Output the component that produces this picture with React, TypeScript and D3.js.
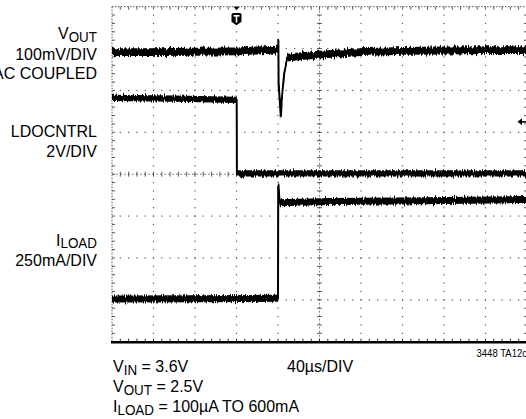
import React from "react";
import * as d3 from "d3";

// ---------- data ----------
// time axis: 40µs/DIV, 10 divisions
const timeDomain = [0, 400]; // µs

// VOUT, AC coupled, deviation in mV (100mV/DIV)
const voutTime = [0, 40, 80, 120, 140, 158, 160.2, 160.35, 160.6, 162.8, 163.6, 166, 169, 180, 200, 240, 280, 320, 360, 400];
const voutMv = [-5, -5, -4, -3, -1, 1, 1, 23, -80, -160, -118, -55, -18, -15, -11, -5, -2, -1, 0, 0];

// LDOCNTRL in V (2V/DIV)
const ldoTime = [0, 60, 120.2, 120.4, 140, 200, 300, 400];
const ldoV = [3.65, 3.61, 3.55, 0.04, 0.04, 0.04, 0.04, 0.04];

// ILOAD in mA (250mA/DIV)
const iloadTime = [0, 80, 160, 160.2, 160.4, 161.6, 210, 300, 400];
const iloadMa = [0, 2, 4, 680, 680, 575, 582, 587, 594];

// trigger position (µs) and reference marker (divisions)
const triggerTime = 120;
const refMarkerDiv = 1.25;

// labels
const leftLabels = [
  { main: "V", sub: "OUT" },
  { main: "100mV/DIV", sub: "" },
  { main: "AC COUPLED", sub: "" },
  { main: "LDOCNTRL", sub: "" },
  { main: "2V/DIV", sub: "" },
  { main: "I", sub: "LOAD" },
  { main: "250mA/DIV", sub: "" },
];
const leftLabelY = [39.3, 59.5, 79.3, 136.7, 156.7, 245.5, 265.5];

const bottomLabels = [
  { main: "V", sub: "IN", rest: " = 3.6V" },
  { main: "V", sub: "OUT", rest: " = 2.5V" },
  { main: "I", sub: "LOAD", rest: " = 100µA TO 600mA" },
];
const bottomLabelY = [372, 392, 412];
const timebaseLabel = "40µs/DIV";
const figureId = "3448 TA12c";

// ---------- layout ----------
const W = 526;
const H = 419;
const plot = { left: 112, right: 527, top: 6.7, bottom: 341.7 };
const X_DIVS = 10;
const Y_DIVS = 8;
const FONT = "'Liberation Sans', Arial, Helvetica, sans-serif";
const FS = 17.4;
const SUB_FS = 14.6;
const SX = 0.92; // condensed look

export default function App() {
  const x = d3.scaleLinear().domain(timeDomain).range([plot.left, plot.right]);
  const yDiv = d3.scaleLinear().domain([-Y_DIVS / 2, Y_DIVS / 2]).range([plot.bottom, plot.top]);
  const divW = (plot.right - plot.left) / X_DIVS;
  const divH = (plot.bottom - plot.top) / Y_DIVS;

  const traces = [
    { t: voutTime, v: voutMv, perDiv: 100, zeroDiv: 2.964, band: 3.9 },
    { t: ldoTime, v: ldoV, perDiv: 2, zeroDiv: 0, band: 3.1 },
    { t: iloadTime, v: iloadMa, perDiv: 250, zeroDiv: -2.98, band: 3.5 },
  ];

  // grid elements
  const dots: { x: number; y: number }[] = [];
  for (let k = 1; k < X_DIVS; k++) {
    if (k === X_DIVS / 2) continue;
    for (let j = 1; j < Y_DIVS * 5; j++) {
      dots.push({ x: plot.left + k * divW, y: plot.top + (j * divH) / 5 });
    }
  }
  for (let j = 1; j < Y_DIVS; j++) {
    if (j === Y_DIVS / 2) continue;
    for (let k = 1; k < X_DIVS * 5; k++) {
      dots.push({ x: plot.left + (k * divW) / 5, y: plot.top + j * divH });
    }
  }
  const cx = plot.left + (X_DIVS / 2) * divW;
  const cy = plot.top + (Y_DIVS / 2) * divH;
  const hTicks = d3.range(1, X_DIVS * 5).map((k) => plot.left + (k * divW) / 5);
  const vTicks = d3.range(1, Y_DIVS * 5).map((j) => plot.top + (j * divH) / 5);

  const tx = x(triggerTime);
  const ry = yDiv(refMarkerDiv);

  const label = (key: string, px: number, py: number, anchor: string, main: string, sub: string, rest: string) => (
    <text key={key} transform={`translate(${px},${py}) scale(${SX},1)`} textAnchor={anchor}>
      {main}
      {sub ? (
        <tspan fontSize={SUB_FS} dy={2.6}>
          {sub}
        </tspan>
      ) : null}
      {rest ? <tspan dy={sub ? -2.6 : 0}>{rest}</tspan> : null}
    </text>
  );

  return (
    <svg width={W} height={H} style={{ position: "absolute", left: 0, top: 0, background: "#fff" }}>
      <defs>
        <filter id="scopeNoise" filterUnits="userSpaceOnUse" x={0} y={0} width={W} height={H}>
          <feTurbulence type="fractalNoise" baseFrequency="0.9 0.03" numOctaves={1} seed={7} result="n" />
          <feColorMatrix
            in="n"
            type="matrix"
            values="0 0 0 0 0.5  0 1 0 0 0  0 0 0 0 0  0 0 0 0 1"
            result="m"
          />
          <feDisplacementMap in="SourceGraphic" in2="m" scale={7} xChannelSelector="R" yChannelSelector="G" />
        </filter>
      </defs>
      <rect x={0} y={0} width={W} height={H} fill="#fff" />
      {/* dotted grid */}
      <g fill="#555">
        {dots.map((d, i) => (
          <rect key={i} x={d.x - 0.6} y={d.y - 0.6} width={1.2} height={1.2} />
        ))}
      </g>
      {/* center axes */}
      <g stroke="#666" strokeWidth={0.8}>
        <line x1={plot.left} x2={plot.right} y1={cy} y2={cy} strokeDasharray="2,2" />
        <line x1={cx} x2={cx} y1={plot.top} y2={plot.bottom} strokeDasharray="2,2" />
        {hTicks.map((hx, i) => (
          <line key={"ch" + i} x1={hx} x2={hx} y1={cy - 2.5} y2={cy + 2.5} stroke="#333" />
        ))}
        {vTicks.map((vy, i) => (
          <line key={"cv" + i} x1={cx - 2.5} x2={cx + 2.5} y1={vy} y2={vy} stroke="#333" />
        ))}
      </g>
      {/* borders */}
      <g stroke="#444" strokeWidth={0.9}>
        <line x1={plot.left} x2={plot.right} y1={plot.top} y2={plot.top} strokeDasharray="1.5,1.5" />
        <line x1={plot.left} x2={plot.left} y1={plot.top} y2={plot.bottom} strokeDasharray="1.5,1.5" />
        <line x1={plot.right} x2={plot.right} y1={plot.top} y2={plot.bottom} strokeDasharray="1.5,1.5" />
        {hTicks.map((hx, i) => (
          <line key={"t" + i} x1={hx} x2={hx} y1={plot.top} y2={plot.top + 3} />
        ))}
        {vTicks.map((vy, i) => (
          <line key={"l" + i} x1={plot.left} x2={plot.left + 3} y1={vy} y2={vy} />
        ))}
        {vTicks.map((vy, i) => (
          <line key={"r" + i} x1={plot.right - 3} x2={plot.right} y1={vy} y2={vy} />
        ))}
        {hTicks.map((hx, i) => (
          <line key={"b" + i} x1={hx} x2={hx} y1={plot.bottom - 3} y2={plot.bottom} stroke="#111" />
        ))}
      </g>
      <line x1={plot.left - 1} x2={plot.right} y1={plot.bottom + 0.5} y2={plot.bottom + 0.5} stroke="#000" strokeWidth={2.4} />

      {/* traces */}
      <g filter="url(#scopeNoise)">
        {traces.map((tr, i) => {
          const pts = tr.t.map((t, k) => [x(t), yDiv(tr.zeroDiv + tr.v[k] / tr.perDiv)] as [number, number]);
          const area = d3
            .area<[number, number]>()
            .x((p) => p[0])
            .y0((p) => p[1] - tr.band)
            .y1((p) => p[1] + tr.band);
          const line = d3.line<[number, number]>().x((p) => p[0]).y((p) => p[1]);
          return (
            <g key={i}>
              <path d={area(pts) || ""} fill="#000" />
              <path d={line(pts) || ""} fill="none" stroke="#000" strokeWidth={2} strokeLinejoin="round" />
            </g>
          );
        })}
      </g>

      {/* trigger marker */}
      <g>
        <path d={`M${tx - 3},${plot.top} L${tx + 3},${plot.top} L${tx},${plot.top + 3.5} Z`} fill="#000" />
        <path
          d={`M${tx - 5},${plot.top + 8} Q${tx - 5},${plot.top + 6.3} ${tx - 3},${plot.top + 6.3} L${tx + 3},${plot.top + 6.3} Q${tx + 5},${plot.top + 6.3} ${tx + 5},${plot.top + 8} L${tx + 5},${plot.top + 15} L${tx},${plot.top + 18.5} L${tx - 5},${plot.top + 15} Z`}
          fill="#000"
        />
        <rect x={tx - 3} y={plot.top + 8.3} width={6} height={1.6} fill="#fff" />
        <rect x={tx - 0.8} y={plot.top + 8.3} width={1.6} height={7.5} fill="#fff" />
      </g>
      {/* reference marker */}
      <g>
        <path d={`M${plot.right - 9.5},${ry} L${plot.right - 5},${ry - 3.5} L${plot.right - 5},${ry + 3.5} Z`} fill="#000" />
        <line x1={plot.right - 6} x2={W} y1={ry} y2={ry} stroke="#000" strokeWidth={1.6} />
      </g>

      {/* labels */}
      <g fontFamily={FONT} fontSize={FS} fill="#000">
        {leftLabels.map((l, i) => label("l" + i, 97, leftLabelY[i], "end", l.main, l.sub, ""))}
        {bottomLabels.map((l, i) => label("b" + i, 113, bottomLabelY[i], "start", l.main, l.sub, l.rest))}
        {label("tb", 287, 372, "start", timebaseLabel, "", "")}
        <text transform={`translate(476.5,356.5) scale(0.9,1)`} fontSize={10.6}>
          {figureId}
        </text>
      </g>
    </svg>
  );
}
